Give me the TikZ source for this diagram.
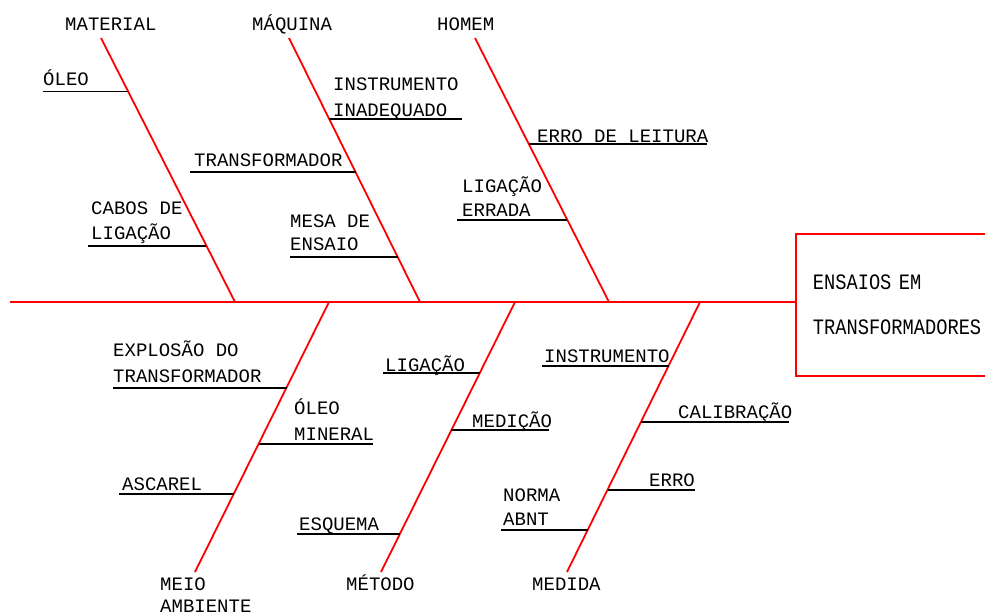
\documentclass[tikz,border=0pt]{standalone}
\usepackage{fontspec}
\usepackage{xcolor}
\newfontfamily\cadfont{Liberation Mono}
\newfontfamily\cadbox{Liberation Mono}[FakeStretch=0.85]
\definecolor{cBone}{HTML}{FF0000}
% one sub-cause: name, x from, x to, y of the rule, text x, baseline of the last line, text
\newcommand{\causa}[7]{%
  \coordinate (#1-a) at (#2,#4);
  \coordinate (#1-b) at (#3,#4);
  \draw[rule] (#1-a) -- (#1-b);
  \node[lbl] (#1) at (#5,#6) {#7};}

\begin{document}
\begin{tikzpicture}[x=1pt, y=-1pt,
  bone/.style={draw=cBone, line width=1.8pt},
  rule/.style={draw=black, line width=1.8pt},
  lbl/.style={anchor=base west, inner sep=0pt, align=left, font=\cadfont\fontsize{19}{25}\selectfont},
  effbox/.style={draw=cBone, line width=1.8pt, anchor=west, minimum width=230, minimum height=141.5,
    inner xsep=17pt, inner ysep=0pt, text width=196pt, align=left, font=\cadbox\fontsize{22}{45}\selectfont}]
\useasboundingbox (0,0) rectangle (985,615);
\clip (0,0) rectangle (985,615);
% ---- head and spine -----------------------------------------------------------------
\node[effbox] (efeito) at (795,305) {ENSAIOS EM\\TRANSFORMADORES};
\coordinate (cauda) at (10,302);
\draw[bone] (cauda) -- (cauda -| efeito.west);
% ---- main bones: label, free end, foot on the spine ---------------------------------
\node[lbl] (material) at (65,30.5) {MATERIAL};
\node[lbl] (maquina) at (252,30.5) {MÁQUINA};
\node[lbl] (homem) at (437,30.5) {HOMEM};
\node[lbl] (meio) at (160,612) {MEIO\\[-3pt]AMBIENTE};
\node[lbl] (metodo) at (346,590) {MÉTODO};
\node[lbl] (medida) at (532,590.5) {MEDIDA};
\coordinate (material-e) at (101,38);   \coordinate (material-p) at (235,302);
\coordinate (maquina-e) at (289,38);    \coordinate (maquina-p) at (420,302);
\coordinate (homem-e) at (475,38);      \coordinate (homem-p) at (609,302);
\coordinate (meio-e) at (195,572);      \coordinate (meio-p) at (329,302);
\coordinate (metodo-e) at (381,572);    \coordinate (metodo-p) at (515,302);
\coordinate (medida-e) at (567,572);    \coordinate (medida-p) at (700,302);
\foreach \b in {material,maquina,homem,meio,metodo,medida}
  \draw[bone] (\b-e) -- (\b-p);
% ---- sub-causes above the spine -----------------------------------------------------
\causa{oleo}{43}{128}{91.5}{43}{86}{ÓLEO}
\causa{cabos}{88}{206}{245.7}{91}{239}{CABOS DE\\LIGAÇÃO}
\causa{transf}{190}{355.5}{171.7}{194}{166}{TRANSFORMADOR}
\causa{mesa}{290}{397.5}{257.3}{290}{250}{MESA DE\\[-2pt]ENSAIO}
\causa{inadeq}{329}{461.5}{119.3}{333}{116.7}{INSTRUMENTO\\[1pt]INADEQUADO}
\causa{leitura}{528.8}{707}{144}{537}{142.7}{ERRO DE LEITURA}
\causa{errada}{457}{567}{220}{462}{216.7}{LIGAÇÃO\\[-1pt]ERRADA}
% ---- sub-causes below the spine -----------------------------------------------------
\causa{explosao}{113}{286.5}{387.7}{113}{382.7}{EXPLOSÃO DO\\[1pt]TRANSFORMADOR}
\causa{mineral}{258.5}{373.3}{443.7}{294}{440.7}{ÓLEO\\[1.5pt]MINERAL}
\causa{ascarel}{119}{233.7}{493.7}{122}{490}{ASCAREL}
\causa{esquema}{297}{400}{534}{299}{530}{ESQUEMA}
\causa{ligacao}{382.5}{480}{373.3}{385}{371.7}{LIGAÇÃO}
\causa{medicao}{451}{549.3}{429.7}{472}{427.7}{MEDIÇÃO}
\causa{instrum}{542}{669}{366}{544}{362.3}{INSTRUMENTO}
\causa{calib}{641}{789.3}{422}{678}{418.3}{CALIBRAÇÃO}
\causa{erro}{607.5}{695.3}{489.7}{649}{486}{ERRO}
\causa{norma}{501}{588}{529.7}{503}{525}{NORMA\\[-1pt]ABNT}
\end{tikzpicture}
\end{document}
